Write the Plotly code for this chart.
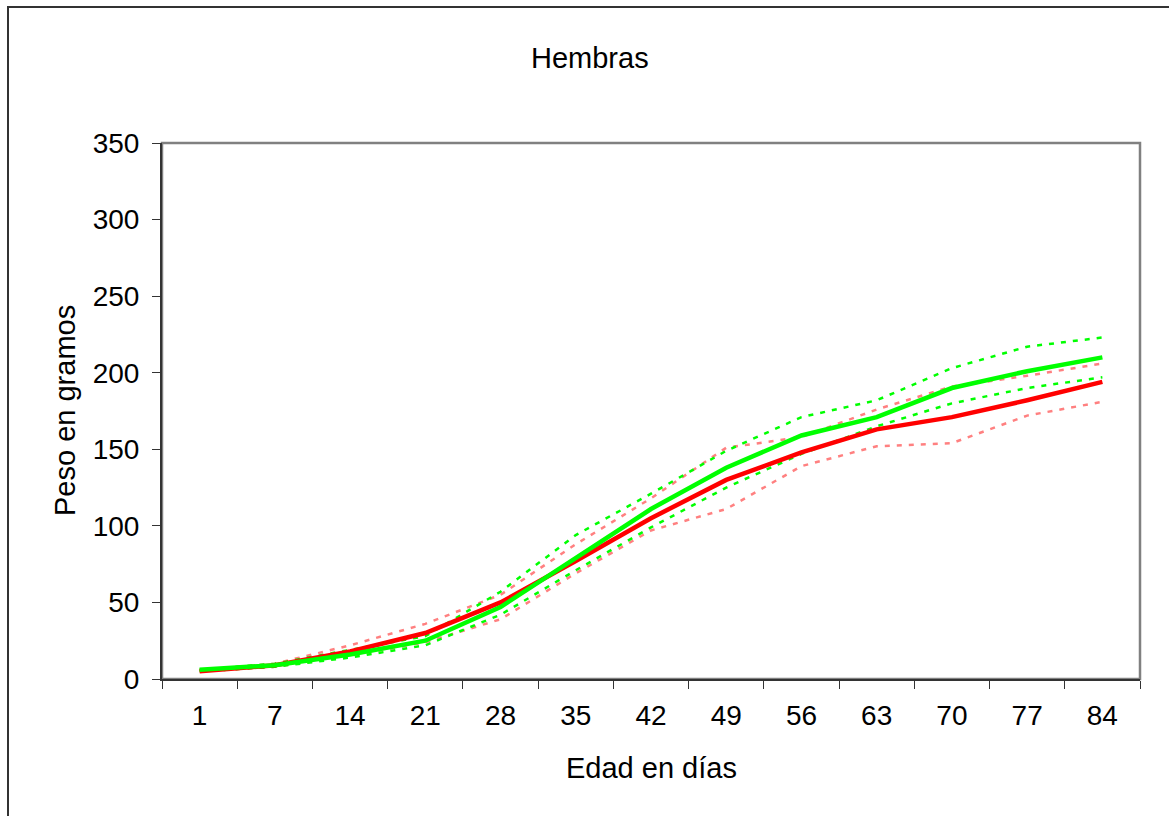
import plotly.graph_objects as go

days = ["1", "7", "14", "21", "28", "35", "42", "49", "56", "63", "70", "77", "84"]
red_mean = [5, 9, 18, 30, 50, 77, 105, 130, 148, 163, 171, 182, 194]
green_mean = [6, 9, 16, 25, 47, 79, 111, 138, 159, 171, 190, 201, 210]
red_upper = [6, 10, 22, 36, 55, 88, 118, 151, 158, 176, 191, 198, 206]
red_lower = [5, 8, 15, 24, 39, 69, 97, 111, 139, 152, 154, 172, 181]
green_upper = [6, 10, 19, 28, 57, 94, 121, 149, 171, 182, 203, 217, 223]
green_lower = [5, 8, 14, 22, 42, 71, 99, 125, 147, 165, 180, 190, 197]

FONT = "Liberation Sans, Arial, sans-serif"
FS = 28
FT = 29
dotted = "5px,7px"

fig = go.Figure()
for ys, col in [(red_upper, "#FF8080"), (red_lower, "#FF8080"),
                (green_upper, "#00FF00"), (green_lower, "#00FF00")]:
    fig.add_trace(go.Scatter(x=days, y=ys, mode="lines",
                             line=dict(color=col, width=2.5, dash=dotted),
                             showlegend=False, hoverinfo="skip"))
fig.add_trace(go.Scatter(x=days, y=red_mean, mode="lines",
                         line=dict(color="#FF0000", width=4.5), showlegend=False))
fig.add_trace(go.Scatter(x=days, y=green_mean, mode="lines",
                         line=dict(color="#00FF00", width=4.5), showlegend=False))

L, R, T, B = 162, 29, 143, 137
W, H = 1169, 816
pw, ph = W - L - R, H - T - B

def px(x):
    return (x - L) / pw

def py(y):
    return (H - B - y) / ph

fig.update_layout(
    width=W, height=H,
    margin=dict(l=L, r=R, t=T, b=B, autoexpand=False),
    paper_bgcolor="white", plot_bgcolor="white",
    font=dict(family=FONT, size=FS, color="black"),
    xaxis=dict(type="category", range=[-0.5, len(days) - 0.5], tickson="boundaries",
               ticks="outside", ticklen=8,
               tickcolor="#333333", tickwidth=1, showgrid=False, zeroline=False,
               showline=True, linecolor="#333333", linewidth=2,
               tickfont=dict(size=FS), ticklabelstandoff=10, fixedrange=True),
    yaxis=dict(range=[0, 350], tickvals=[0, 50, 100, 150, 200, 250, 300, 350],
               ticks="outside", ticklen=8, tickcolor="#333333", tickwidth=1,
               showgrid=False, zeroline=False, showline=True, linecolor="#333333",
               linewidth=2, tickfont=dict(size=FS), ticklabelstandoff=7, fixedrange=True),
    shapes=[
        dict(type="rect", xref="paper", yref="paper", x0=0, x1=1, y0=0, y1=1,
             line=dict(color="#808080", width=2.5), layer="below"),
        dict(type="rect", xref="paper", yref="paper", x0=px(8), x1=px(1200),
             y0=py(900), y1=py(7), line=dict(color="#333333", width=2)),
    ],
    annotations=[
        dict(text="Hembras", xref="paper", yref="paper", x=px(590), y=py(58),
             showarrow=False, xanchor="center", yanchor="middle", font=dict(size=FT)),
        dict(text="Edad en días", xref="paper", yref="paper", x=px(651), y=py(768),
             showarrow=False, xanchor="center", yanchor="middle", font=dict(size=FT)),
        dict(text="Peso en gramos", xref="paper", yref="paper", x=px(65), y=py(411),
             showarrow=False, xanchor="center", yanchor="middle", textangle=-90,
             font=dict(size=FT)),
    ],
)

fig.write_html("out.html")
